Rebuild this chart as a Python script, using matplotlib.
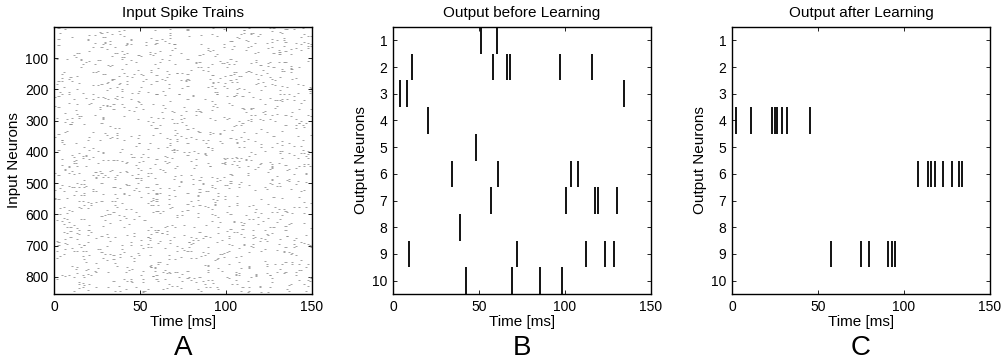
import matplotlib
matplotlib.use("Agg")
import matplotlib.pyplot as plt
import numpy as np

plt.rcParams['font.family'] = ['Liberation Sans', 'DejaVu Sans']

# panel A: 850 input neurons firing irregularly over 150 ms (texture, not readable point by point)
n_inputs = 850
t_max = 150
rng = np.random.default_rng(7)
input_counts = rng.poisson(1.7, n_inputs)
input_neuron = np.repeat(np.arange(1, n_inputs + 1), input_counts)
input_time = rng.integers(0, t_max, input_neuron.size)

# panel B: output spike times (ms) before learning, one list per output neuron
before = [
    [51.0, 60.3],
    [10.9, 58.0, 66.1, 68.0, 97.3, 115.5],
    [3.9, 8.0, 134.5],
    [20.2],
    [48.3],
    [34.3, 61.2, 103.3, 107.6],
    [57.2, 100.4, 117.3, 119.2, 130.4],
    [39.0],
    [9.3, 72.3, 112.4, 123.4, 128.3],
    [42.6, 69.2, 85.5, 98.3],
]

# panel C: output spike times (ms) after learning
after = [
    [],
    [],
    [],
    [2.1, 11.0, 23.0, 25.0, 26.0, 28.8, 31.8, 45.2],
    [],
    [107.9, 113.7, 115.6, 117.9, 122.9, 127.8, 131.8, 133.8],
    [],
    [],
    [57.3, 74.9, 79.7, 90.7, 93.0, 94.8],
    [],
]

titles = ["Input Spike Trains", "Output before Learning", "Output after Learning"]
ylabels = ["Input Neurons", "Output Neurons", "Output Neurons"]
letters = ["A", "B", "C"]

fig = plt.figure(figsize=(10.04, 3.62), dpi=100)
lefts = [54, 393, 732]
axes = []
for l in lefts:
    axes.append(fig.add_axes([l / 1004, 68 / 362, 258 / 1004, 267 / 362]))

# input raster
ax = axes[0]
ax.hlines(input_neuron, input_time, input_time + 1.2, color='0.55', linewidth=0.55)
ax.set_ylim(855, 0)
ax.set_yticks(np.arange(100, 900, 100))

# output rasters
for ax, trains in zip(axes[1:], [before, after]):
    for i, times in enumerate(trains):
        if times:
            ax.vlines(times, i + 0.5, i + 1.5, color='black', linewidth=1.3)
    ax.set_ylim(10.5, 0.5)
    ax.set_yticks(np.arange(1, 11))

for ax, title, yl, letter in zip(axes, titles, ylabels, letters):
    ax.set_xlim(0, t_max)
    ax.set_xticks([0, 50, 100, 150])
    ax.set_title(title, fontsize=11, pad=7)
    ax.set_xlabel("Time [ms]", fontsize=11, labelpad=1)
    ax.set_ylabel(yl, fontsize=11, labelpad=3)
    ax.tick_params(direction='in', length=3, width=0.6, labelsize=10,
                   top=True, right=True, pad=4)
    for s in ax.spines.values():
        s.set_linewidth(1.0)
    pos = ax.get_position()
    fig.text(pos.x0 + pos.width / 2, 0.04, letter, fontsize=20,
             ha='center', va='center')

fig.savefig("out.png", dpi=100)
